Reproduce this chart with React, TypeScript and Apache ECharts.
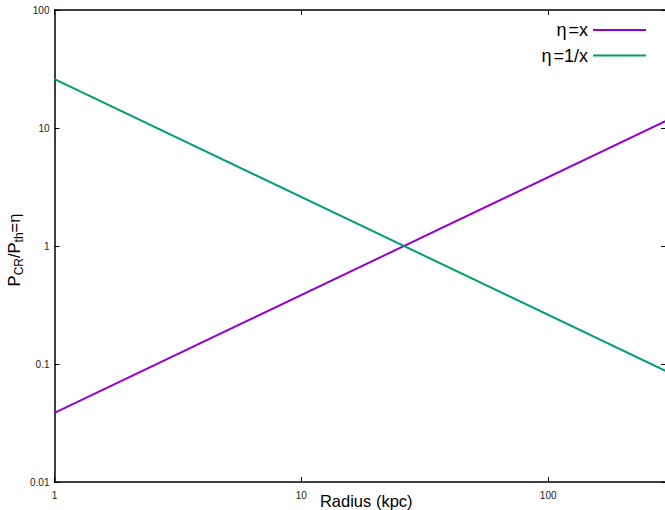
import React, { useEffect, useRef } from "react";
import * as echarts from "echarts";

const radius = [1, 300];
const etaLinear = [0.0385, 11.5];
const etaInverse = [26, 0.087];
const seriesNames = ["η=x", "η=1/x"];
const seriesColors = ["#9400D3", "#009E73"];
const xRange = [1, 300];
const yRange = [0.01, 100];
const xMinorTicks = [2, 3, 4, 5, 6, 7, 8, 9, 20, 30, 40, 50, 60, 70, 80, 90, 200, 300];
const yMinorTicks = [
  0.02, 0.03, 0.04, 0.05, 0.06, 0.07, 0.08, 0.09,
  0.2, 0.3, 0.4, 0.5, 0.6, 0.7, 0.8, 0.9,
  2, 3, 4, 5, 6, 7, 8, 9,
  20, 30, 40, 50, 60, 70, 80, 90,
];

const FONT = "Liberation Sans, Arial, sans-serif";
const MINOR = 3;

export default function App() {
  const ref = useRef<HTMLDivElement>(null);
  useEffect(() => {
    if (!ref.current) return;
    const chart = echarts.init(ref.current, undefined, { renderer: "svg" });
    const axisCommon = {
      type: "log" as const,
      logBase: 10,
      axisLine: { show: true, lineStyle: { color: "#000", width: 1.5 } },
      axisTick: { show: true, inside: true, length: 5, lineStyle: { color: "#000", width: 1 } },
      splitLine: { show: false },
      minorTick: { show: false },
    };
    const lineStyle = { color: "#000", width: 1 };
    chart.setOption({
      animation: false,
      backgroundColor: "#fff",
      textStyle: { fontFamily: FONT },
      grid: { left: 54.5, top: 10, width: 611.5, height: 472, containLabel: false, outerBoundsMode: "none" },
      legend: {
        data: seriesNames,
        orient: "vertical",
        right: 14,
        top: 16,
        align: "right",
        icon: "rect",
        itemWidth: 53,
        itemHeight: 2,
        itemGap: 7.5,
        formatter: (name: string) => "{e|η}" + name.slice(1),
        textStyle: {
          fontSize: 18,
          color: "#000",
          fontFamily: FONT,
          lineHeight: 18,
          rich: {
            e: { fontSize: 18, fontFamily: FONT, color: "#000", lineHeight: 18, padding: [0, 2, 0, 2] },
          },
        },
      },
      xAxis: [
        {
          ...axisCommon,
          min: xRange[0],
          max: xRange[1],
          position: "bottom",
          axisLabel: { show: true, fontSize: 10, color: "#222", margin: 8, showMaxLabel: false },
          name: "Radius (kpc)",
          nameLocation: "middle",
          nameGap: 19,
          nameMoveOverlap: false,
          nameTextStyle: { fontSize: 16.5, color: "#000", fontFamily: FONT, verticalAlign: "middle", padding: [0, 0, 0, 12] },
        },
        {
          ...axisCommon,
          min: xRange[0],
          max: xRange[1],
          position: "top",
          axisLabel: { show: false },
        },
      ],
      yAxis: [
        {
          ...axisCommon,
          min: yRange[0],
          max: yRange[1],
          position: "left",
          axisLabel: { show: true, fontSize: 10, color: "#222", margin: 5 },
          name: "{n|P}{s|CR}{n|/P}{s|th}{n|=η}",
          nameLocation: "middle",
          nameGap: 30,
          nameRotate: 90,
          nameMoveOverlap: false,
          nameTextStyle: {
            color: "#000",
            fontFamily: FONT,
            padding: [0, 8, 0, 0],
            rich: {
              n: { fontSize: 16.5, fontFamily: FONT, color: "#000", lineHeight: 22, verticalAlign: "middle" },
              s: { fontSize: 12, fontFamily: FONT, color: "#000", lineHeight: 22, verticalAlign: "bottom" },
            },
          },
        },
        {
          ...axisCommon,
          min: yRange[0],
          max: yRange[1],
          position: "right",
          axisLabel: { show: false },
        },
      ],
      series: [
        {
          name: seriesNames[0],
          type: "line",
          data: radius.map((r, i) => [r, etaLinear[i]]),
          symbol: "none",
          showSymbol: false,
          lineStyle: { color: seriesColors[0], width: 2 },
          itemStyle: { color: seriesColors[0] },
          z: 3,
        },
        {
          name: seriesNames[1],
          type: "line",
          data: radius.map((r, i) => [r, etaInverse[i]]),
          symbol: "none",
          showSymbol: false,
          lineStyle: { color: seriesColors[1], width: 2 },
          itemStyle: { color: seriesColors[1] },
          z: 3,
        },
        {
          type: "custom",
          name: "xMinor",
          silent: true,
          clip: false,
          data: xMinorTicks.map((v) => [v, yRange[0]]),
          renderItem: (params: any, api: any) => {
            const v = api.value(0);
            const b = api.coord([v, yRange[0]]);
            const t = api.coord([v, yRange[1]]);
            return {
              type: "group",
              children: [
                { type: "line", shape: { x1: b[0], y1: b[1], x2: b[0], y2: b[1] - MINOR }, style: lineStyle },
                { type: "line", shape: { x1: t[0], y1: t[1], x2: t[0], y2: t[1] + MINOR }, style: lineStyle },
              ],
            };
          },
        },
        {
          type: "custom",
          name: "yMinor",
          silent: true,
          clip: false,
          data: yMinorTicks.map((v) => [xRange[0], v]),
          renderItem: (params: any, api: any) => {
            const v = api.value(1);
            const l = api.coord([xRange[0], v]);
            const r = api.coord([xRange[1], v]);
            return {
              type: "group",
              children: [
                { type: "line", shape: { x1: l[0], y1: l[1], x2: l[0] + MINOR, y2: l[1] }, style: lineStyle },
                { type: "line", shape: { x1: r[0], y1: r[1], x2: r[0] - MINOR, y2: r[1] }, style: lineStyle },
              ],
            };
          },
        },
      ],
    });
    return () => chart.dispose();
  }, []);
  return (
    <div
      ref={ref}
      style={{ position: "absolute", left: 0, top: 0, width: 665, height: 510 }}
    />
  );
}
